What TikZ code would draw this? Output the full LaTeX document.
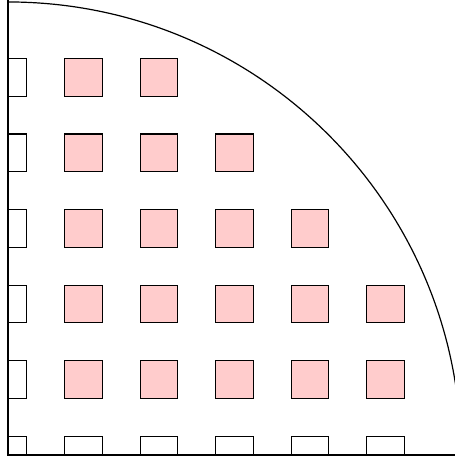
\documentclass[tikz,border=0pt]{standalone}
\usepackage{tikz}
\tikzstyle{cell}=[draw, inner sep=0, outer sep=0, minimum size=0.5cm]
\tikzstyle{incell}=[cell, fill=red!20]
\tikzstyle{quadrant}=[line width=0.45pt,
                      % Frame of the picture.
                      execute at begin picture={\useasboundingbox (-0.106, -0.04) rectangle (5.92, 6.026);}]

\begin{document}
\begin{tikzpicture}[quadrant]
    \clip (-0.106, -0.04) rectangle (5.92, 6.026);
    \coordinate (O) at (0, 0);
    \coordinate (top) at (0, 6.1);
    \coordinate (right) at (6.1, 0);
    \draw (6, 0) arc (0:90:6);
    % Cells lying wholly inside the circle.
    \foreach \j/\n in {1/5, 2/5, 3/4, 4/3, 5/2}
        \foreach \i in {1,...,\n}
            \node[incell] (c-\i-\j) at (\i, \j) {};
    % Cells cut by the axes.
    \foreach \k in {1,...,5} {
        \draw (0, \k-0.25) rectangle (0.25, \k+0.25);
        \draw (\k-0.25, 0) rectangle (\k+0.25, 0.25);
    }
    \draw (O) rectangle (0.25, 0.25);
    \draw (top) -- (O) -- (right);
\end{tikzpicture}
\end{document}
